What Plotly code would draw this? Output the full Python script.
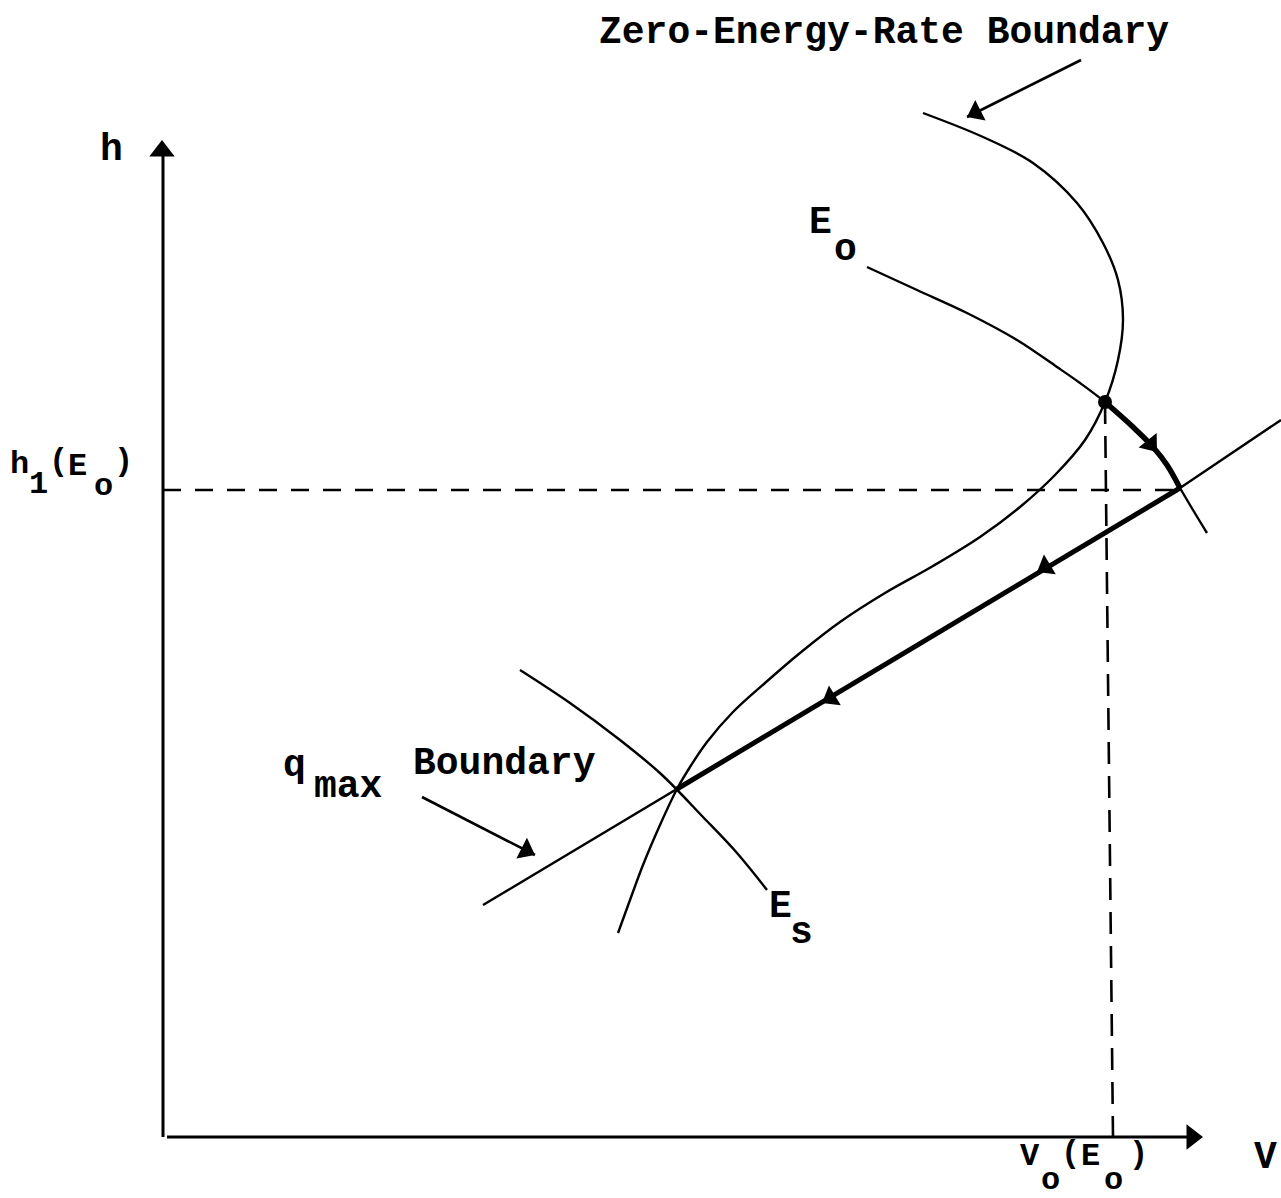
import numpy as np
import plotly.graph_objects as go

# ---- curve vertices in (V, h) units --------------------------------------
# Zero-energy-rate boundary, top to bottom
zer_v = [760, 820, 870, 914, 940, 955, 960, 955, 942, 922, 892, 857, 817,
         770, 722, 677, 637, 602, 570, 544, 527, 514, 497, 480, 467, 455]
zer_h = [1024, 1000, 974, 934, 894, 857, 817, 777, 735, 697, 662, 630, 600,
         571, 544, 515, 484, 454, 425, 395, 370, 348, 312, 272, 237, 204]

# Energy contour E_o
e0_v = [704, 754, 804, 854, 894, 917, 942, 970, 990, 1004, 1017, 1030, 1044]
e0_h = [870, 847, 824, 797, 770, 754, 735, 710, 690, 672, 649, 627, 604]

# Bold piece of the path that follows E_o (start point to q_max boundary)
dive_v = [942, 970, 990, 1004, 1017]
dive_h = [735, 710, 690, 672, 649]

# q_max boundary
qmax_v = [320, 514, 1017, 1118]
qmax_h = [232, 348, 649, 717]

# Bold piece of the path that rides the q_max boundary down to E_s
ride_v = [1017, 514]
ride_h = [649, 348]

# Energy contour E_s
es_v = [357, 407, 457, 498, 540, 574, 604]
es_h = [467, 434, 397, 363, 320, 284, 247]

# Start point (E_o on the zero-energy-rate boundary) and reference levels
start_v, start_h = [942], [735]
h1_level = 647
v0_top = (942, 735)
v0_bottom = (950, 0)

# Flow arrows along the path: (tip V, tip h, direction dV, direction dh)
flow_tips = [(994, 685, 1.0, -1.25), (874, 565, -503, -301), (659, 434, -503, -301)]

# Pointer arrows for the labels: (from V, from h, tip V, tip h)
pointers = [(918, 1077, 804, 1020), (259, 340, 372, 282)]

# Axis extent
v_axis_end = 1040
h_axis_end = 997

FONT = "Liberation Mono"
FS = 38       # main labels
FS_AX = 32    # h1(Eo) and Vo(Eo) axis marks

fig = go.Figure()


def add_line(v, h, width=2.4, dash=None, shape="spline"):
    fig.add_trace(go.Scatter(
        x=v, y=h, mode="lines",
        line=dict(color="black", width=width, dash=dash, shape=shape, smoothing=1.0),
        hoverinfo="skip", showlegend=False))


def add_head(tip_v, tip_h, dv, dh, size):
    u = np.array([dv, dh], dtype=float)
    u /= np.linalg.norm(u)
    r = size / 2.0
    cv, ch = tip_v - u[0] * r, tip_h - u[1] * r
    ang = float(np.degrees(np.arctan2(u[0], u[1])))
    fig.add_trace(go.Scatter(
        x=[cv], y=[ch], mode="markers",
        marker=dict(symbol="triangle-up", size=size, angle=ang, color="black",
                    line=dict(width=0)),
        hoverinfo="skip", showlegend=False))


# axes
add_line([0, 0], [0, h_axis_end - 10], width=3, shape="linear")
add_line([4, v_axis_end - 10], [0, 0], width=3, shape="linear")
add_head(-1, h_axis_end, 0, 1, 22)
add_head(v_axis_end, 0, 1, 0, 22)

# reference dashes
add_line([0, ride_v[0]], [h1_level, h1_level], width=2.6, dash="18px,14px", shape="linear")
add_line([v0_top[0], v0_bottom[0]], [v0_top[1], v0_bottom[1]], width=2.6,
         dash="22px,12px", shape="linear")

# boundaries and contours
add_line(zer_v, zer_h)
add_line(e0_v, e0_h)
add_line(qmax_v, qmax_h, shape="linear")
add_line(es_v, es_h)

# optimal path (bold)
add_line(dive_v, dive_h, width=5.5)
add_line(ride_v, ride_h, width=5, shape="linear")
fig.add_trace(go.Scatter(x=start_v, y=start_h, mode="markers",
                         marker=dict(size=14, color="black"),
                         hoverinfo="skip", showlegend=False))
for tv, th, dv, dh in flow_tips:
    add_head(tv, th, dv, dh, 20)

# label pointers
for fv, fh, tv, th in pointers:
    add_line([fv, tv], [fh, th], width=2.6, shape="linear")
    add_head(tv, th, tv - fv, th - fh, 20)

# ---- text ------------------------------------------------------------------
labels = [
    ("Zero-Energy-Rate Boundary", 721, 1105, FS),
    ("h", -52, 988, FS),
    ("h", -144, 673, FS_AX), ("1", -124.5, 653, FS_AX), ("(", -105, 676, FS_AX),
    ("E", -85.5, 671, FS_AX), ("o", -60, 651, FS_AX), (")", -40, 676, FS_AX),
    ("E", 657, 915, FS), ("o", 682, 888, FS),
    ("q", 131, 372, FS), ("max", 185, 351, FS), ("Boundary", 341, 374, FS),
    ("E", 617, 231, FS), ("s", 638, 205, FS),
    ("V", 867, -19, FS_AX), ("o", 887, -43, FS_AX), ("(", 907, -16, FS_AX),
    ("E", 927, -19, FS_AX), ("o", 950, -43, FS_AX), (")", 975, -17, FS_AX),
    ("V", 1102, -20, FS),
]
for txt, lv, lh, fs in labels:
    fig.add_annotation(x=lv, y=lh, text=txt, showarrow=False,
                       xanchor="center", yanchor="middle", borderpad=0,
                       font=dict(family=FONT, size=fs, color="black", weight="bold"))

fig.update_xaxes(range=[-163, 1118], visible=False, fixedrange=True)
fig.update_yaxes(range=[-61, 1137], visible=False, fixedrange=True)
fig.update_layout(width=1281, height=1198, margin=dict(l=0, r=0, t=0, b=0),
                  plot_bgcolor="white", paper_bgcolor="white")

fig.write_html("out.html")
